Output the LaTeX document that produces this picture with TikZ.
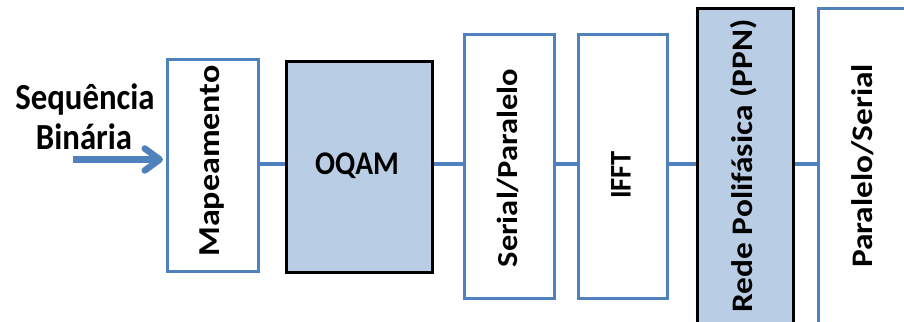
\documentclass[tikz,border=0pt]{standalone}
\usepackage{fontspec}
\setmainfont{Carlito}
\usetikzlibrary{arrows.meta}
\definecolor{lineblue}{HTML}{4F81BD}
\definecolor{fillblue}{HTML}{B9CDE5}
\newcommand{\hstretch}[2]{\scalebox{1}[#1]{#2}}
\newcommand{\vstretch}[2]{\scalebox{#1}[1]{#2}}
\tikzset{
  bluebox/.style={draw=lineblue, line width=3pt, fill=white, anchor=north west, inner sep=0pt},
  blackbox/.style={draw=black, line width=3.2pt, fill=fillblue, anchor=north west, inner sep=0pt},
  lbl/.style={font=\bfseries\fontsize{#1}{#1}\selectfont, inner sep=0pt},
  lbl/.default=30,
  vlbl/.style={lbl=#1, rotate=90},
  vlbl/.default=30,
  wire/.style={draw=lineblue, line width=4.5pt},
}
\begin{document}
\begin{tikzpicture}[x=1pt, y=-1pt]
\useasboundingbox (0,0) rectangle (904,321);
\clip (0,0) rectangle (904,321);
% boxes
\node[bluebox, minimum width=91pt, minimum height=212pt] (map) at (166,58) {};
\node[blackbox, minimum width=146pt, minimum height=211pt] (oqam) at (285,60) {};
\node[bluebox, minimum width=90pt, minimum height=264pt] (sp) at (463,33) {};
\node[bluebox, minimum width=89pt, minimum height=264pt] (ifft) at (577,33) {};
\node[blackbox, minimum width=96pt, minimum height=330pt] (ppn) at (696,7) {};
\node[bluebox, minimum width=110pt, minimum height=330pt] (ps) at (817,7) {};
% labels
\node[vlbl=30.4] (mapt) at (212,161) {\vstretch{1.12}{Mapeamento}};
\node[lbl=29.5] (oqamt) at (357,166) {\hstretch{1.12}{OQAM}};
\node[vlbl=29] (spt) at (508,168) {\vstretch{1.12}{Serial/Paralelo}};
\node[vlbl=30] (ifftt) at (621,175) {\vstretch{0.95}{IFFT}};
\node[vlbl=29.8] (ppnt) at (744,166) {\vstretch{1.12}{Rede Polifásica (PPN)}};
\node[vlbl=29.8] (pst) at (863,166) {\vstretch{1.12}{Paralelo/Serial}};
\node[lbl=32.8] (seq) at (85,99) {\hstretch{1.12}{Sequência}};
\node[lbl=32.8] (bin) at (84,137) {\hstretch{1.12}{Binária}};
% input arrow
\coordinate (in) at (73,159.5);
\draw[wire, line width=6.5pt, -{Straight Barb[length=15pt, width=22pt, line width=6.5pt, round]}] (in) -- ([xshift=-3pt]map.west |- in);
% connectors
\draw[wire] (map.east |- 0,164) -- (oqam.west |- 0,164);
\draw[wire] (oqam.east |- 0,164) -- (sp.west |- 0,164);
\draw[wire] (sp.east |- 0,164) -- (ifft.west |- 0,164);
\draw[wire] (ifft.east |- 0,164) -- (ppn.west |- 0,164);
\draw[wire] (ppn.east |- 0,164) -- (ps.west |- 0,164);
\end{tikzpicture}
\end{document}
